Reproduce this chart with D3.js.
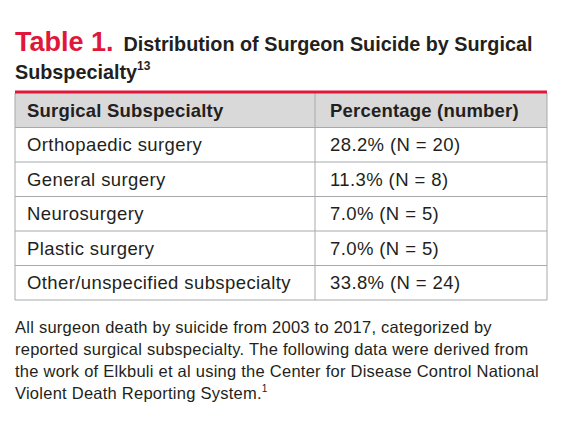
<!DOCTYPE html><html><head><meta charset="utf-8"><script src="https://cdn.jsdelivr.net/npm/d3@7"></script>
<style>body{margin:0;background:#fff}</style></head><body><svg id="c" width="580" height="426"></svg>
<script>
const headers=["Surgical Subspecialty","Percentage (number)"];
const categories=["Orthopaedic surgery","General surgery","Neurosurgery","Plastic surgery","Other/unspecified subspecialty"];
const percents=[28.2,11.3,7.0,7.0,33.8];
const counts=[20,8,5,5,24];
const captionLines=["All surgeon death by suicide from 2003 to 2017, categorized by","reported surgical subspecialty. The following data were derived from","the work of Elkbuli et al using the Center for Disease Control National","Violent Death Reporting System."];
const svg=d3.select("#c");const F="Liberation Sans, Arial, sans-serif";
const t=svg.append("text").attr("x",15).attr("y",51).attr("font-family",F).attr("font-weight","bold");
t.append("tspan").attr("font-size",27).attr("fill","#e0173a").text("Table 1.");
t.append("tspan").attr("font-size",19.8).attr("fill","#231f20").attr("dx",10).text("Distribution of Surgeon Suicide by Surgical");
const t2=svg.append("text").attr("x",15).attr("y",79).attr("font-family",F).attr("font-weight","bold").attr("font-size",19.8).attr("fill","#231f20");
t2.append("tspan").text("Subspecialty");t2.append("tspan").attr("font-size",12).attr("dy",-9).text("13");
const rows=d3.range(categories.length+1);
const y=d3.scaleBand().domain(rows).range([93,300]);
const x0=15,x1=315,x2=547;
svg.append("rect").attr("x",x0).attr("y",y(0)).attr("width",x2-x0).attr("height",y.bandwidth()).attr("fill","#d9d9da");
svg.selectAll("line.h").data(d3.range(1,rows.length+1)).join("line").attr("x1",x0).attr("x2",x2)
 .attr("y1",d=>d<rows.length?y(d):300).attr("y2",d=>d<rows.length?y(d):300).attr("stroke","#a7a9ac").attr("stroke-width",1);
[x0,x1,x2].forEach(xx=>svg.append("line").attr("x1",xx).attr("x2",xx).attr("y1",93).attr("y2",300).attr("stroke","#a7a9ac"));
svg.append("line").attr("x1",x0).attr("x2",x2).attr("y1",92).attr("y2",92).attr("stroke","#e0173a").attr("stroke-width",3);
const cells=[headers].concat(categories.map((c,i)=>[c,`${percents[i].toFixed(1)}% (N = ${counts[i]})`]));
cells.forEach((r,i)=>{r.forEach((v,j)=>{svg.append("text").attr("x",j?330:27).attr("y",y(i)+y.bandwidth()/2+6.5)
 .attr("font-family",F).attr("font-size",18.5).attr("letter-spacing",i?0.4:0.2).attr("font-weight",i?"normal":"bold").attr("fill","#231f20").text(v);});});
captionLines.forEach((l,i)=>{const tt=svg.append("text").attr("x",15).attr("y",333+i*22).attr("font-family",F).attr("font-size",16.5).attr("letter-spacing",0.25).attr("fill","#231f20").text(l);
 if(i==captionLines.length-1)tt.append("tspan").attr("font-size",10).attr("dy",-7).text("1");});
</script></body></html>
